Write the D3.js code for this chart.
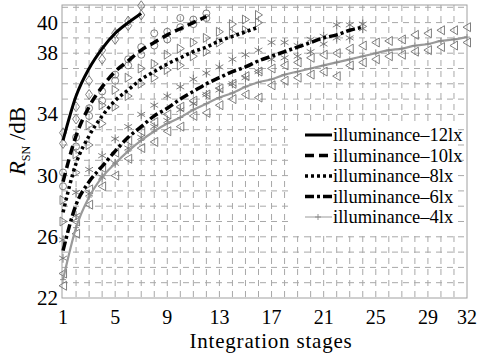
<!DOCTYPE html>
<html>
<head>
<meta charset="utf-8">
<script src="https://cdn.jsdelivr.net/npm/d3@7/dist/d3.min.js"></script>
<style>
  body { margin: 0; background: #fff; }
  svg { display: block; }
</style>
</head>
<body>
<svg id="chart" width="479" height="354"></svg>
<script>
// curves, one value per integration stage
const lux12 = [32.3, 35.2, 37.0, 38.3, 39.3, 40.0, 40.6];
const lux10 = [29.6, 32.6, 34.5, 35.8, 36.8, 37.5, 38.2, 38.7, 39.2, 39.6, 40.0, 40.4];
const lux8 = [27.6, 30.8, 32.6, 33.9, 34.9, 35.6, 36.3, 36.8, 37.3, 37.7, 38.1, 38.4, 38.8, 39.1, 39.4, 39.7];
const lux6 = [25.1, 28.1, 29.6, 30.6, 31.6, 32.5, 33.2, 33.9, 34.4, 35.0, 35.5, 36.0, 36.4, 36.8, 37.1, 37.5,
  37.8, 38.1, 38.4, 38.7, 39.0, 39.2, 39.5, 39.7];
const lux4 = [23.2, 26.6, 28.6, 29.9, 30.8, 31.6, 32.3, 32.9, 33.4, 33.8, 34.3, 34.7, 35.1, 35.4, 35.8, 36.1,
  36.3, 36.6, 36.8, 37.0, 37.2, 37.4, 37.6, 37.8, 38.0, 38.2, 38.3, 38.5, 38.6, 38.8, 38.9, 39.05];

// measured points (upper and lower spread at each stage)
const pts12Hi = [32.8, 34.5, 36.2, 38.2, 39.3, 40.1, 41.1];
const pts12Lo = [32.1, 33.7, 35.3, 37.6, 38.9, 39.8, 40.5];
const pts10Hi = [30.2, 32.5, 34.4, 35.5, 36.6, 37.6, 38.4, 39.3, 39.4, 40.3, 40.2, 40.6];
const pts10Lo = [29.3, 31.9, 33.9, 34.9, 36.2, 37.2, 37.9, 38.5, 38.9, 39.7, 39.9, 40.3];
const pts8Hi = [28.4, 31.4, 33.3, 34.6, 35.6, 36.4, 37.0, 37.3, 37.9, 38.3, 38.7, 39.0, 39.4, 39.9, 40.2, 40.5];
const pts8Lo = [27.0, 30.2, 32.0, 33.4, 34.5, 35.2, 36.0, 36.4, 36.9, 37.2, 37.8, 38.1, 38.7, 39.3, 39.5, 40.0];
const pts6Hi = [25.8, 28.9, 30.4, 31.3, 32.4, 33.2, 34.0, 34.6, 35.2, 35.8, 36.3, 36.7, 37.1, 37.6, 37.9, 38.2,
  38.7, 38.7, 38.5, 38.9, 39.1, 39.85, 39.85, 39.9];
const pts6Lo = [24.6, 27.4, 28.8, 29.9, 30.8, 31.8, 32.5, 33.2, 33.6, 34.3, 34.7, 35.3, 35.6, 36.0, 36.4, 36.8,
  37.6, 37.7, 37.8, 38.1, 38.6, 39.0, 39.0, 39.6];
const pts4Hi = [23.6, 27.0, 29.1, 30.5, 31.5, 32.3, 32.9, 33.5, 34.0, 34.5, 34.9, 35.3, 35.7, 36.0, 36.5, 36.8,
  37.0, 37.2, 37.4, 37.7, 37.9, 38.0, 38.3, 38.5, 38.7, 38.8, 38.9, 39.2, 39.3, 39.5, 39.5, 39.7];
const pts4Lo = [22.8, 26.2, 28.1, 29.3, 30.0, 31.1, 31.8, 32.2, 32.9, 33.2, 33.9, 34.1, 34.6, 35.0, 35.3, 35.1,
  35.9, 36.2, 36.4, 36.6, 36.8, 36.5, 37.2, 37.4, 37.6, 37.8, 37.9, 38.1, 38.2, 38.4, 38.5, 38.7];

const xTicks = [1, 5, 9, 13, 17, 21, 25, 29, 32];
const yTicks = [22, 26, 30, 34, 38, 40];
const labels = ["illuminance\u201312lx", "illuminance\u201310lx", "illuminance\u20138lx", "illuminance\u20136lx", "illuminance\u20134lx"];

const svg = d3.select("#chart");
const pLeft = 62, pRight = 467, pTop = 5, pBottom = 298;
const serif = "'Liberation Serif', serif";

const x = d3.scaleLinear().domain([0.92, 32]).range([pLeft, pRight]);
const y = d3.scaleLinear().domain([22, 41.15]).range([pBottom, pTop]);

// dashed grid
const grid = svg.append("g").attr("stroke", "#a8a8a8").attr("stroke-width", 1)
  .attr("stroke-dasharray", "6,5");
grid.selectAll("line.v").data(d3.range(2, 32)).enter().append("line")
  .attr("x1", d => x(d)).attr("x2", d => x(d)).attr("y1", pTop).attr("y2", pBottom);
grid.selectAll("line.h").data(d3.range(23, 42)).enter().append("line")
  .attr("y1", d => y(d)).attr("y2", d => y(d)).attr("x1", pLeft).attr("x2", pRight);

// frame
svg.append("rect").attr("x", pLeft).attr("y", pTop).attr("width", pRight - pLeft).attr("height", pBottom - pTop)
  .attr("fill", "none").attr("stroke", "#a0a0a0").attr("stroke-width", 1);

// tick labels
svg.append("g").selectAll("text").data(xTicks).enter().append("text")
  .attr("x", d => x(d)).attr("y", 324).attr("text-anchor", "middle")
  .style("font-family", serif).style("font-size", "20px").text(d => d);
svg.append("g").selectAll("text").data(yTicks).enter().append("text")
  .attr("x", 58).attr("y", d => y(d) + 7).attr("text-anchor", "end")
  .style("font-family", serif).style("font-size", "21px").text(d => d);

svg.append("text").attr("x", 271).attr("y", 348).attr("text-anchor", "middle")
  .style("font-family", serif).style("font-size", "21px").style("letter-spacing", "0.8px")
  .text("Integration stages");

const yl = svg.append("text").attr("transform", "translate(25,141) rotate(-90)")
  .attr("text-anchor", "middle").style("font-family", serif).style("font-size", "23px");
yl.append("tspan").style("font-style", "italic").text("R");
yl.append("tspan").style("font-size", "12px").attr("dy", 5).text("SN");
yl.append("tspan").attr("dy", -5).text(" /dB");

// marker shapes
const mk = {
  diamond: "M0,-5L3.5,0L0,5L-3.5,0Z",
  circle: "M-3.5,0a3.5,3.5 0 1,0 7,0a3.5,3.5 0 1,0 -7,0",
  right: "M-3,-4.5L4,0L-3,4.5Z",
  left: "M3.5,-4.5L-4,0L3.5,4.5Z",
  star: "M0,-4.5V4.5M-3.9,-2.25L3.9,2.25M-3.9,2.25L3.9,-2.25",
  plus: "M-3,0H3M0,-3V3"
};

function points(hi, lo, shape) {
  const data = hi.map((v, i) => [i + 1, v]).concat(lo.map((v, i) => [i + 1, v]));
  svg.append("g").selectAll("path").data(data).enter().append("path")
    .attr("transform", d => "translate(" + x(d[0]) + "," + y(d[1]) + ")")
    .attr("d", mk[shape]).attr("fill", "none").attr("stroke", "#707070").attr("stroke-width", 0.9);
}

points(pts4Hi, pts4Lo, "left");
points(pts6Hi, pts6Lo, "star");
points(pts8Hi, pts8Lo, "right");
points(pts10Hi, pts10Lo, "circle");
points(pts12Hi, pts12Lo, "diamond");

const line = d3.line().x((d, i) => x(i + 1)).y(d => y(d)).curve(d3.curveMonotoneX);

const styles = [
  { data: lux12, color: "#000", width: 3, dash: null },
  { data: lux10, color: "#000", width: 3.5, dash: "9,5" },
  { data: lux8, color: "#000", width: 3.5, dash: "3,3" },
  { data: lux6, color: "#000", width: 3.5, dash: "9,3,3,3" },
  { data: lux4, color: "#9a9a9a", width: 2.2, dash: null }
];

// 4lx first so black lines sit on top
[4, 3, 2, 1, 0].forEach(k => {
  const s = styles[k];
  svg.append("path").datum(s.data).attr("d", line).attr("fill", "none")
    .attr("stroke", s.color).attr("stroke-width", s.width)
    .attr("stroke-dasharray", s.dash);
});
svg.append("g").selectAll("path").data(lux4).enter().append("path")
  .attr("transform", (d, i) => "translate(" + x(i + 1) + "," + y(d) + ")")
  .attr("d", mk.plus).attr("stroke", "#888").attr("stroke-width", 0.9);

// legend
const lg = svg.append("g");
lg.append("rect").attr("x", 293).attr("y", 121).attr("width", 165).attr("height", 113).attr("fill", "#fff");
const rowY = d => 135 + d * 20.5;
styles.forEach((s, i) => {
  lg.append("line").attr("x1", 305).attr("x2", 332).attr("y1", rowY(i)).attr("y2", rowY(i))
    .attr("stroke", s.color).attr("stroke-width", i === 4 ? 1 : s.width)
    .attr("stroke-dasharray", s.dash);
  lg.append("text").attr("x", 333).attr("y", rowY(i) + 6)
    .style("font-family", serif).style("font-size", "18.5px").text(labels[i]);
});
lg.append("path").attr("transform", "translate(318," + rowY(4) + ")").attr("d", mk.plus)
  .attr("stroke", "#888").attr("stroke-width", 0.9);
</script>
</body>
</html>
